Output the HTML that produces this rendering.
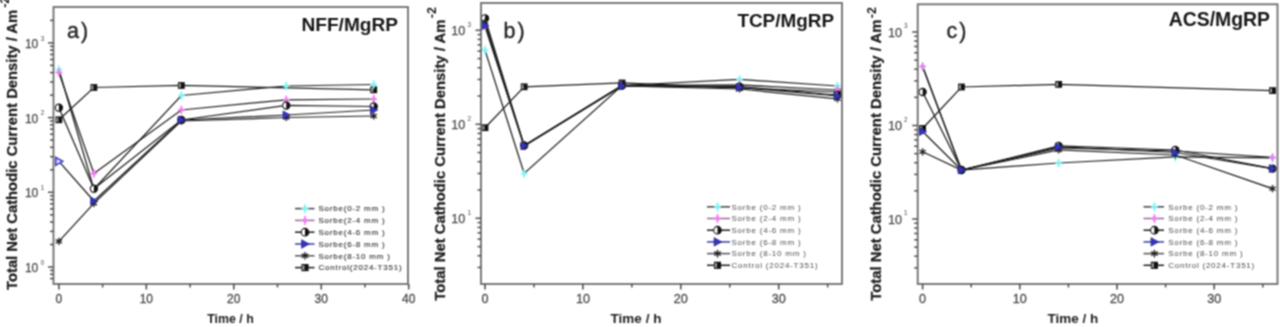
<!DOCTYPE html>
<html><head><meta charset="utf-8"><style>
html,body{margin:0;padding:0;background:#fff;width:1280px;height:327px;overflow:hidden}
svg{display:block}
text{font-family:"Liberation Sans", sans-serif}
</style></head><body>
<div id="w"><svg width="1280" height="327" viewBox="0 0 1280 327">
<defs><filter id="bl" x="0" y="0" width="1" height="1" filterUnits="objectBoundingBox" color-interpolation-filters="sRGB"><feConvolveMatrix order="3" kernelMatrix="1 2 1 2 4 2 1 2 1" divisor="16" edgeMode="duplicate"/></filter></defs>
<g filter="url(#bl)">
<rect width="1280" height="327" fill="#fff"/>
<polyline points="58.90,119.80 93.88,87.50 181.33,85.50 373.72,89.80" fill="none" stroke="#1e1e1e" stroke-width="1.25"/>
<polyline points="58.90,69.50 93.88,189.00 181.33,95.50 286.27,86.00 373.72,84.50" fill="none" stroke="#1e1e1e" stroke-width="1.25"/>
<polyline points="58.90,72.50 93.88,173.50 181.33,110.00 286.27,99.80 373.72,99.00" fill="none" stroke="#1e1e1e" stroke-width="1.25"/>
<polyline points="58.90,107.70 93.88,188.70 181.33,120.00 286.27,105.50 373.72,106.50" fill="none" stroke="#1e1e1e" stroke-width="1.25"/>
<polyline points="58.90,241.40 93.88,203.40 181.33,121.00 286.27,117.50 373.72,116.00" fill="none" stroke="#1e1e1e" stroke-width="1.25"/>
<polyline points="58.90,161.30 93.88,201.00 181.33,120.00 286.27,115.00 373.72,110.00" fill="none" stroke="#1e1e1e" stroke-width="1.25"/>
<rect x="55.5" y="116.39999999999999" width="6.8" height="6.8" fill="#111"/><rect x="56.3" y="117.6" width="2.0999999999999996" height="4.4" fill="#9a9a9a"/>
<rect x="90.47999999999999" y="84.1" width="6.8" height="6.8" fill="#111"/><rect x="91.27999999999999" y="85.3" width="2.0999999999999996" height="4.4" fill="#9a9a9a"/>
<rect x="177.92999999999998" y="82.1" width="6.8" height="6.8" fill="#111"/><rect x="178.73" y="83.3" width="2.0999999999999996" height="4.4" fill="#9a9a9a"/>
<rect x="370.32" y="86.39999999999999" width="6.8" height="6.8" fill="#111"/><rect x="371.12" y="87.6" width="2.0999999999999996" height="4.4" fill="#9a9a9a"/>
<polygon points="58.90,65.10 59.89,68.51 62.30,69.50 59.89,70.49 58.90,73.90 57.91,70.49 55.50,69.50 57.91,68.51" fill="#7ff5f5" stroke="#7ff5f5" stroke-width="0.8"/>
<polygon points="93.88,184.60 94.87,188.01 97.28,189.00 94.87,189.99 93.88,193.40 92.89,189.99 90.48,189.00 92.89,188.01" fill="#7ff5f5" stroke="#7ff5f5" stroke-width="0.8"/>
<polygon points="181.33,91.10 182.32,94.51 184.73,95.50 182.32,96.49 181.33,99.90 180.34,96.49 177.93,95.50 180.34,94.51" fill="#7ff5f5" stroke="#7ff5f5" stroke-width="0.8"/>
<polygon points="286.27,81.60 287.26,85.01 289.67,86.00 287.26,86.99 286.27,90.40 285.28,86.99 282.87,86.00 285.28,85.01" fill="#7ff5f5" stroke="#7ff5f5" stroke-width="0.8"/>
<polygon points="373.72,80.10 374.71,83.51 377.12,84.50 374.71,85.49 373.72,88.90 372.73,85.49 370.32,84.50 372.73,83.51" fill="#7ff5f5" stroke="#7ff5f5" stroke-width="0.8"/>
<polygon points="58.90,68.10 59.89,71.51 62.30,72.50 59.89,73.49 58.90,76.90 57.91,73.49 55.50,72.50 57.91,71.51" fill="#f07cf0" stroke="#f07cf0" stroke-width="0.8"/>
<polygon points="93.88,169.10 94.87,172.51 97.28,173.50 94.87,174.49 93.88,177.90 92.89,174.49 90.48,173.50 92.89,172.51" fill="#f07cf0" stroke="#f07cf0" stroke-width="0.8"/>
<polygon points="181.33,105.60 182.32,109.01 184.73,110.00 182.32,110.99 181.33,114.40 180.34,110.99 177.93,110.00 180.34,109.01" fill="#f07cf0" stroke="#f07cf0" stroke-width="0.8"/>
<polygon points="286.27,95.40 287.26,98.81 289.67,99.80 287.26,100.79 286.27,104.20 285.28,100.79 282.87,99.80 285.28,98.81" fill="#f07cf0" stroke="#f07cf0" stroke-width="0.8"/>
<polygon points="373.72,94.60 374.71,98.01 377.12,99.00 374.71,99.99 373.72,103.40 372.73,99.99 370.32,99.00 372.73,98.01" fill="#f07cf0" stroke="#f07cf0" stroke-width="0.8"/>
<circle cx="58.9" cy="107.7" r="3.6" fill="#fff" stroke="#111" stroke-width="1.1"/><path d="M58.9,104.10000000000001 A3.6,3.6 0 0 1 58.9,111.3 Z" fill="#111"/>
<circle cx="93.88" cy="188.7" r="3.6" fill="#fff" stroke="#111" stroke-width="1.1"/><path d="M93.88,185.1 A3.6,3.6 0 0 1 93.88,192.29999999999998 Z" fill="#111"/>
<circle cx="181.32999999999998" cy="120" r="3.6" fill="#fff" stroke="#111" stroke-width="1.1"/><path d="M181.32999999999998,116.4 A3.6,3.6 0 0 1 181.32999999999998,123.6 Z" fill="#111"/>
<circle cx="286.27" cy="105.5" r="3.6" fill="#fff" stroke="#111" stroke-width="1.1"/><path d="M286.27,101.9 A3.6,3.6 0 0 1 286.27,109.1 Z" fill="#111"/>
<circle cx="373.71999999999997" cy="106.5" r="3.6" fill="#fff" stroke="#111" stroke-width="1.1"/><path d="M373.71999999999997,102.9 A3.6,3.6 0 0 1 373.71999999999997,110.1 Z" fill="#111"/>
<path d="M58.90,237.80L58.90,245.00M62.02,239.60L55.78,243.20M62.02,243.20L55.78,239.60" stroke="#222" stroke-width="1.4" fill="none"/>
<path d="M93.88,199.80L93.88,207.00M97.00,201.60L90.76,205.20M97.00,205.20L90.76,201.60" stroke="#222" stroke-width="1.4" fill="none"/>
<path d="M181.33,117.40L181.33,124.60M184.45,119.20L178.21,122.80M184.45,122.80L178.21,119.20" stroke="#222" stroke-width="1.4" fill="none"/>
<path d="M286.27,113.90L286.27,121.10M289.39,115.70L283.15,119.30M289.39,119.30L283.15,115.70" stroke="#222" stroke-width="1.4" fill="none"/>
<path d="M373.72,112.40L373.72,119.60M376.84,114.20L370.60,117.80M376.84,117.80L370.60,114.20" stroke="#222" stroke-width="1.4" fill="none"/>
<polygon points="55.70,157.30 62.90,161.30 55.70,165.30" fill="#d8d8ff" stroke="#3434c4" stroke-width="1.4"/>
<polygon points="90.68,197.00 97.88,201.00 90.68,205.00" fill="#3434c4" stroke="#24248a" stroke-width="0.8"/>
<polygon points="178.13,116.00 185.33,120.00 178.13,124.00" fill="#3434c4" stroke="#24248a" stroke-width="0.8"/>
<polygon points="283.07,111.00 290.27,115.00 283.07,119.00" fill="#3434c4" stroke="#24248a" stroke-width="0.8"/>
<polygon points="370.52,106.00 377.72,110.00 370.52,114.00" fill="#3434c4" stroke="#24248a" stroke-width="0.8"/>
<rect x="53.5" y="7" width="354.5" height="277" fill="none" stroke="#6e6e6e" stroke-width="1.8"/>
<line x1="58.90" y1="284" x2="58.90" y2="289.5" stroke="#505050" stroke-width="1.6"/>
<text x="58.90" y="302.8" font-size="12" fill="#4a4a4a" stroke="#4a4a4a" stroke-width="0.3" text-anchor="middle">0</text>
<line x1="146.35" y1="284" x2="146.35" y2="289.5" stroke="#505050" stroke-width="1.6"/>
<text x="146.35" y="302.8" font-size="12" fill="#4a4a4a" stroke="#4a4a4a" stroke-width="0.3" text-anchor="middle">10</text>
<line x1="233.80" y1="284" x2="233.80" y2="289.5" stroke="#505050" stroke-width="1.6"/>
<text x="233.80" y="302.8" font-size="12" fill="#4a4a4a" stroke="#4a4a4a" stroke-width="0.3" text-anchor="middle">20</text>
<line x1="321.25" y1="284" x2="321.25" y2="289.5" stroke="#505050" stroke-width="1.6"/>
<text x="321.25" y="302.8" font-size="12" fill="#4a4a4a" stroke="#4a4a4a" stroke-width="0.3" text-anchor="middle">30</text>
<line x1="408.70" y1="284" x2="408.70" y2="289.5" stroke="#505050" stroke-width="1.6"/>
<text x="408.70" y="302.8" font-size="12" fill="#4a4a4a" stroke="#4a4a4a" stroke-width="0.3" text-anchor="middle">40</text>
<line x1="102.62" y1="284" x2="102.62" y2="287.5" stroke="#505050" stroke-width="1.5"/>
<line x1="190.07" y1="284" x2="190.07" y2="287.5" stroke="#505050" stroke-width="1.5"/>
<line x1="277.52" y1="284" x2="277.52" y2="287.5" stroke="#505050" stroke-width="1.5"/>
<line x1="364.97" y1="284" x2="364.97" y2="287.5" stroke="#505050" stroke-width="1.5"/>
<line x1="50.00" y1="278.57" x2="53.5" y2="278.57" stroke="#505050" stroke-width="1.5"/>
<line x1="50.00" y1="274.24" x2="53.5" y2="274.24" stroke="#505050" stroke-width="1.5"/>
<line x1="50.00" y1="270.42" x2="53.5" y2="270.42" stroke="#505050" stroke-width="1.5"/>
<line x1="48.00" y1="267.00" x2="53.5" y2="267.00" stroke="#505050" stroke-width="1.5"/>
<line x1="50.00" y1="244.51" x2="53.5" y2="244.51" stroke="#505050" stroke-width="1.5"/>
<line x1="50.00" y1="231.36" x2="53.5" y2="231.36" stroke="#505050" stroke-width="1.5"/>
<line x1="50.00" y1="222.03" x2="53.5" y2="222.03" stroke="#505050" stroke-width="1.5"/>
<line x1="50.00" y1="214.79" x2="53.5" y2="214.79" stroke="#505050" stroke-width="1.5"/>
<line x1="50.00" y1="208.87" x2="53.5" y2="208.87" stroke="#505050" stroke-width="1.5"/>
<line x1="50.00" y1="203.87" x2="53.5" y2="203.87" stroke="#505050" stroke-width="1.5"/>
<line x1="50.00" y1="199.54" x2="53.5" y2="199.54" stroke="#505050" stroke-width="1.5"/>
<line x1="50.00" y1="195.72" x2="53.5" y2="195.72" stroke="#505050" stroke-width="1.5"/>
<line x1="48.00" y1="192.30" x2="53.5" y2="192.30" stroke="#505050" stroke-width="1.5"/>
<line x1="50.00" y1="169.81" x2="53.5" y2="169.81" stroke="#505050" stroke-width="1.5"/>
<line x1="50.00" y1="156.66" x2="53.5" y2="156.66" stroke="#505050" stroke-width="1.5"/>
<line x1="50.00" y1="147.33" x2="53.5" y2="147.33" stroke="#505050" stroke-width="1.5"/>
<line x1="50.00" y1="140.09" x2="53.5" y2="140.09" stroke="#505050" stroke-width="1.5"/>
<line x1="50.00" y1="134.17" x2="53.5" y2="134.17" stroke="#505050" stroke-width="1.5"/>
<line x1="50.00" y1="129.17" x2="53.5" y2="129.17" stroke="#505050" stroke-width="1.5"/>
<line x1="50.00" y1="124.84" x2="53.5" y2="124.84" stroke="#505050" stroke-width="1.5"/>
<line x1="50.00" y1="121.02" x2="53.5" y2="121.02" stroke="#505050" stroke-width="1.5"/>
<line x1="48.00" y1="117.60" x2="53.5" y2="117.60" stroke="#505050" stroke-width="1.5"/>
<line x1="50.00" y1="95.11" x2="53.5" y2="95.11" stroke="#505050" stroke-width="1.5"/>
<line x1="50.00" y1="81.96" x2="53.5" y2="81.96" stroke="#505050" stroke-width="1.5"/>
<line x1="50.00" y1="72.63" x2="53.5" y2="72.63" stroke="#505050" stroke-width="1.5"/>
<line x1="50.00" y1="65.39" x2="53.5" y2="65.39" stroke="#505050" stroke-width="1.5"/>
<line x1="50.00" y1="59.47" x2="53.5" y2="59.47" stroke="#505050" stroke-width="1.5"/>
<line x1="50.00" y1="54.47" x2="53.5" y2="54.47" stroke="#505050" stroke-width="1.5"/>
<line x1="50.00" y1="50.14" x2="53.5" y2="50.14" stroke="#505050" stroke-width="1.5"/>
<line x1="50.00" y1="46.32" x2="53.5" y2="46.32" stroke="#505050" stroke-width="1.5"/>
<line x1="48.00" y1="42.90" x2="53.5" y2="42.90" stroke="#505050" stroke-width="1.5"/>
<line x1="50.00" y1="20.41" x2="53.5" y2="20.41" stroke="#505050" stroke-width="1.5"/>
<text x="38.3" y="272.00" font-size="12" fill="#4a4a4a" stroke="#4a4a4a" stroke-width="0.25" text-anchor="end">10</text>
<text x="40.7" y="264.60" font-size="6.3" fill="#4a4a4a">0</text>
<text x="38.3" y="197.30" font-size="12" fill="#4a4a4a" stroke="#4a4a4a" stroke-width="0.25" text-anchor="end">10</text>
<text x="40.7" y="189.90" font-size="6.3" fill="#4a4a4a">1</text>
<text x="38.3" y="122.60" font-size="12" fill="#4a4a4a" stroke="#4a4a4a" stroke-width="0.25" text-anchor="end">10</text>
<text x="40.7" y="115.20" font-size="6.3" fill="#4a4a4a">2</text>
<text x="38.3" y="47.90" font-size="12" fill="#4a4a4a" stroke="#4a4a4a" stroke-width="0.25" text-anchor="end">10</text>
<text x="40.7" y="40.50" font-size="6.3" fill="#4a4a4a">3</text>
<text transform="translate(16.6,290) rotate(-90) scale(1,0.95)" font-size="14.8" font-weight="bold" fill="#1c1c1c" stroke="#1c1c1c" stroke-width="0.25">Total Net Cathodic Current Density / Am</text>
<text transform="translate(9.0,7.8) rotate(-90)" font-size="12.5" font-weight="bold" fill="#1c1c1c">-2</text>
<text x="230.5" y="322.5" font-size="12.4" font-weight="bold" fill="#222" text-anchor="middle">Time / h</text>
<text x="67" y="37.6" font-size="21.5" letter-spacing="2" fill="#222" stroke="#222" stroke-width="0.35">a)</text>
<text x="398" y="31" font-size="19.1" font-weight="bold" fill="#161616" text-anchor="end">NFF/MgRP</text>
<line x1="295" y1="208.60" x2="314.5" y2="208.60" stroke="#444" stroke-width="1.5"/>
<polygon points="305.00,203.98 306.04,207.56 308.57,208.60 306.04,209.64 305.00,213.22 303.96,209.64 301.43,208.60 303.96,207.56" fill="#7ff5f5" stroke="#7ff5f5" stroke-width="0.8"/>
<text x="318.5" y="211.40" font-size="8" letter-spacing="0.78" fill="#333" stroke="#333" stroke-width="0.12">Sorbe(0-2 mm )</text>
<line x1="295" y1="220.40" x2="314.5" y2="220.40" stroke="#9a6a9a" stroke-width="1.5"/>
<polygon points="305.00,215.78 306.04,219.36 308.57,220.40 306.04,221.44 305.00,225.02 303.96,221.44 301.43,220.40 303.96,219.36" fill="#f07cf0" stroke="#f07cf0" stroke-width="0.8"/>
<text x="318.5" y="223.20" font-size="8" letter-spacing="0.78" fill="#333" stroke="#333" stroke-width="0.12">Sorbe(2-4 mm )</text>
<line x1="295" y1="232.20" x2="314.5" y2="232.20" stroke="#1e1e1e" stroke-width="1.5"/>
<circle cx="305" cy="232.2" r="3.7800000000000002" fill="#fff" stroke="#111" stroke-width="1.1"/><path d="M305,228.42 A3.7800000000000002,3.7800000000000002 0 0 1 305,235.98 Z" fill="#111"/>
<text x="318.5" y="235.00" font-size="8" letter-spacing="0.78" fill="#333" stroke="#333" stroke-width="0.12">Sorbe(4-6 mm )</text>
<line x1="295" y1="244.00" x2="314.5" y2="244.00" stroke="#3a3ab0" stroke-width="1.5"/>
<polygon points="301.64,239.80 309.20,244.00 301.64,248.20" fill="#3434c4" stroke="#24248a" stroke-width="0.8"/>
<text x="318.5" y="246.80" font-size="8" letter-spacing="0.78" fill="#333" stroke="#333" stroke-width="0.12">Sorbe(6-8 mm )</text>
<line x1="295" y1="255.80" x2="314.5" y2="255.80" stroke="#555" stroke-width="1.5"/>
<path d="M305.00,252.02L305.00,259.58M308.27,253.91L301.73,257.69M308.27,257.69L301.73,253.91" stroke="#222" stroke-width="1.4" fill="none"/>
<text x="318.5" y="258.60" font-size="8" letter-spacing="0.78" fill="#333" stroke="#333" stroke-width="0.12">Sorbe(8-10 mm )</text>
<line x1="295" y1="267.60" x2="314.5" y2="267.60" stroke="#1e1e1e" stroke-width="1.5"/>
<rect x="301.43" y="264.03000000000003" width="7.14" height="7.14" fill="#111"/><rect x="302.23" y="265.23" width="2.2699999999999996" height="4.74" fill="#9a9a9a"/>
<text x="318.5" y="270.40" font-size="8" letter-spacing="0.78" fill="#333" stroke="#333" stroke-width="0.12">Control(2024-T351)</text>
<polyline points="485.00,127.70 524.16,86.80 622.06,83.00 837.44,92.00" fill="none" stroke="#1e1e1e" stroke-width="1.25"/>
<polyline points="485.00,50.10 524.16,173.50 622.06,85.50 739.54,79.50 837.44,86.00" fill="none" stroke="#1e1e1e" stroke-width="1.25"/>
<polyline points="485.00,26.00 524.16,145.90 622.06,85.50 739.54,85.00 837.44,90.00" fill="none" stroke="#1e1e1e" stroke-width="1.25"/>
<polyline points="485.00,18.30 524.16,145.50 622.06,85.50 739.54,86.70 837.44,95.00" fill="none" stroke="#1e1e1e" stroke-width="1.25"/>
<polyline points="485.00,22.00 524.16,146.00 622.06,86.00 739.54,89.00 837.44,98.90" fill="none" stroke="#1e1e1e" stroke-width="1.25"/>
<polyline points="485.00,25.70 524.16,145.90 622.06,86.00 739.54,87.50 837.44,96.00" fill="none" stroke="#1e1e1e" stroke-width="1.25"/>
<rect x="481.6" y="124.3" width="6.8" height="6.8" fill="#111"/><rect x="482.40000000000003" y="125.5" width="2.0999999999999996" height="4.4" fill="#9a9a9a"/>
<rect x="520.76" y="83.39999999999999" width="6.8" height="6.8" fill="#111"/><rect x="521.56" y="84.6" width="2.0999999999999996" height="4.4" fill="#9a9a9a"/>
<rect x="618.66" y="79.6" width="6.8" height="6.8" fill="#111"/><rect x="619.4599999999999" y="80.8" width="2.0999999999999996" height="4.4" fill="#9a9a9a"/>
<rect x="834.04" y="88.6" width="6.8" height="6.8" fill="#111"/><rect x="834.8399999999999" y="89.8" width="2.0999999999999996" height="4.4" fill="#9a9a9a"/>
<polygon points="485.00,45.70 485.99,49.11 488.40,50.10 485.99,51.09 485.00,54.50 484.01,51.09 481.60,50.10 484.01,49.11" fill="#7ff5f5" stroke="#7ff5f5" stroke-width="0.8"/>
<polygon points="524.16,169.10 525.15,172.51 527.56,173.50 525.15,174.49 524.16,177.90 523.17,174.49 520.76,173.50 523.17,172.51" fill="#7ff5f5" stroke="#7ff5f5" stroke-width="0.8"/>
<polygon points="622.06,81.10 623.05,84.51 625.46,85.50 623.05,86.49 622.06,89.90 621.07,86.49 618.66,85.50 621.07,84.51" fill="#7ff5f5" stroke="#7ff5f5" stroke-width="0.8"/>
<polygon points="739.54,75.10 740.53,78.51 742.94,79.50 740.53,80.49 739.54,83.90 738.55,80.49 736.14,79.50 738.55,78.51" fill="#7ff5f5" stroke="#7ff5f5" stroke-width="0.8"/>
<polygon points="837.44,81.60 838.43,85.01 840.84,86.00 838.43,86.99 837.44,90.40 836.45,86.99 834.04,86.00 836.45,85.01" fill="#7ff5f5" stroke="#7ff5f5" stroke-width="0.8"/>
<polygon points="485.00,21.60 485.99,25.01 488.40,26.00 485.99,26.99 485.00,30.40 484.01,26.99 481.60,26.00 484.01,25.01" fill="#f07cf0" stroke="#f07cf0" stroke-width="0.8"/>
<polygon points="524.16,141.50 525.15,144.91 527.56,145.90 525.15,146.89 524.16,150.30 523.17,146.89 520.76,145.90 523.17,144.91" fill="#f07cf0" stroke="#f07cf0" stroke-width="0.8"/>
<polygon points="622.06,81.10 623.05,84.51 625.46,85.50 623.05,86.49 622.06,89.90 621.07,86.49 618.66,85.50 621.07,84.51" fill="#f07cf0" stroke="#f07cf0" stroke-width="0.8"/>
<polygon points="739.54,80.60 740.53,84.01 742.94,85.00 740.53,85.99 739.54,89.40 738.55,85.99 736.14,85.00 738.55,84.01" fill="#f07cf0" stroke="#f07cf0" stroke-width="0.8"/>
<polygon points="837.44,85.60 838.43,89.01 840.84,90.00 838.43,90.99 837.44,94.40 836.45,90.99 834.04,90.00 836.45,89.01" fill="#f07cf0" stroke="#f07cf0" stroke-width="0.8"/>
<circle cx="485.0" cy="18.3" r="3.6" fill="#fff" stroke="#111" stroke-width="1.1"/><path d="M485.0,14.700000000000001 A3.6,3.6 0 0 1 485.0,21.900000000000002 Z" fill="#111"/>
<circle cx="524.16" cy="145.5" r="3.6" fill="#fff" stroke="#111" stroke-width="1.1"/><path d="M524.16,141.9 A3.6,3.6 0 0 1 524.16,149.1 Z" fill="#111"/>
<circle cx="622.06" cy="85.5" r="3.6" fill="#fff" stroke="#111" stroke-width="1.1"/><path d="M622.06,81.9 A3.6,3.6 0 0 1 622.06,89.1 Z" fill="#111"/>
<circle cx="739.54" cy="86.7" r="3.6" fill="#fff" stroke="#111" stroke-width="1.1"/><path d="M739.54,83.10000000000001 A3.6,3.6 0 0 1 739.54,90.3 Z" fill="#111"/>
<circle cx="837.4399999999999" cy="95" r="3.6" fill="#fff" stroke="#111" stroke-width="1.1"/><path d="M837.4399999999999,91.4 A3.6,3.6 0 0 1 837.4399999999999,98.6 Z" fill="#111"/>
<path d="M485.00,18.40L485.00,25.60M488.12,20.20L481.88,23.80M488.12,23.80L481.88,20.20" stroke="#222" stroke-width="1.4" fill="none"/>
<path d="M524.16,142.40L524.16,149.60M527.28,144.20L521.04,147.80M527.28,147.80L521.04,144.20" stroke="#222" stroke-width="1.4" fill="none"/>
<path d="M622.06,82.40L622.06,89.60M625.18,84.20L618.94,87.80M625.18,87.80L618.94,84.20" stroke="#222" stroke-width="1.4" fill="none"/>
<path d="M739.54,85.40L739.54,92.60M742.66,87.20L736.42,90.80M742.66,90.80L736.42,87.20" stroke="#222" stroke-width="1.4" fill="none"/>
<path d="M837.44,95.30L837.44,102.50M840.56,97.10L834.32,100.70M840.56,100.70L834.32,97.10" stroke="#222" stroke-width="1.4" fill="none"/>
<polygon points="481.80,21.70 489.00,25.70 481.80,29.70" fill="#3434c4" stroke="#24248a" stroke-width="0.8"/>
<polygon points="520.96,141.90 528.16,145.90 520.96,149.90" fill="#3434c4" stroke="#24248a" stroke-width="0.8"/>
<polygon points="618.86,82.00 626.06,86.00 618.86,90.00" fill="#3434c4" stroke="#24248a" stroke-width="0.8"/>
<polygon points="736.34,83.50 743.54,87.50 736.34,91.50" fill="#3434c4" stroke="#24248a" stroke-width="0.8"/>
<polygon points="834.24,92.00 841.44,96.00 834.24,100.00" fill="#3434c4" stroke="#24248a" stroke-width="0.8"/>
<rect x="481" y="3" width="361" height="281" fill="none" stroke="#6e6e6e" stroke-width="1.8"/>
<line x1="485.00" y1="284" x2="485.00" y2="289.5" stroke="#505050" stroke-width="1.6"/>
<text x="485.00" y="302.8" font-size="12.6" fill="#4a4a4a" stroke="#4a4a4a" stroke-width="0.3" text-anchor="middle">0</text>
<line x1="582.90" y1="284" x2="582.90" y2="289.5" stroke="#505050" stroke-width="1.6"/>
<text x="582.90" y="302.8" font-size="12.6" fill="#4a4a4a" stroke="#4a4a4a" stroke-width="0.3" text-anchor="middle">10</text>
<line x1="680.80" y1="284" x2="680.80" y2="289.5" stroke="#505050" stroke-width="1.6"/>
<text x="680.80" y="302.8" font-size="12.6" fill="#4a4a4a" stroke="#4a4a4a" stroke-width="0.3" text-anchor="middle">20</text>
<line x1="778.70" y1="284" x2="778.70" y2="289.5" stroke="#505050" stroke-width="1.6"/>
<text x="778.70" y="302.8" font-size="12.6" fill="#4a4a4a" stroke="#4a4a4a" stroke-width="0.3" text-anchor="middle">30</text>
<line x1="533.95" y1="284" x2="533.95" y2="287.5" stroke="#505050" stroke-width="1.5"/>
<line x1="631.85" y1="284" x2="631.85" y2="287.5" stroke="#505050" stroke-width="1.5"/>
<line x1="729.75" y1="284" x2="729.75" y2="287.5" stroke="#505050" stroke-width="1.5"/>
<line x1="827.65" y1="284" x2="827.65" y2="287.5" stroke="#505050" stroke-width="1.5"/>
<line x1="477.50" y1="267.45" x2="481" y2="267.45" stroke="#505050" stroke-width="1.5"/>
<line x1="477.50" y1="255.71" x2="481" y2="255.71" stroke="#505050" stroke-width="1.5"/>
<line x1="477.50" y1="246.60" x2="481" y2="246.60" stroke="#505050" stroke-width="1.5"/>
<line x1="477.50" y1="239.15" x2="481" y2="239.15" stroke="#505050" stroke-width="1.5"/>
<line x1="477.50" y1="232.86" x2="481" y2="232.86" stroke="#505050" stroke-width="1.5"/>
<line x1="477.50" y1="227.41" x2="481" y2="227.41" stroke="#505050" stroke-width="1.5"/>
<line x1="477.50" y1="222.60" x2="481" y2="222.60" stroke="#505050" stroke-width="1.5"/>
<line x1="475.50" y1="218.30" x2="481" y2="218.30" stroke="#505050" stroke-width="1.5"/>
<line x1="477.50" y1="190.00" x2="481" y2="190.00" stroke="#505050" stroke-width="1.5"/>
<line x1="477.50" y1="173.45" x2="481" y2="173.45" stroke="#505050" stroke-width="1.5"/>
<line x1="477.50" y1="161.71" x2="481" y2="161.71" stroke="#505050" stroke-width="1.5"/>
<line x1="477.50" y1="152.60" x2="481" y2="152.60" stroke="#505050" stroke-width="1.5"/>
<line x1="477.50" y1="145.15" x2="481" y2="145.15" stroke="#505050" stroke-width="1.5"/>
<line x1="477.50" y1="138.86" x2="481" y2="138.86" stroke="#505050" stroke-width="1.5"/>
<line x1="477.50" y1="133.41" x2="481" y2="133.41" stroke="#505050" stroke-width="1.5"/>
<line x1="477.50" y1="128.60" x2="481" y2="128.60" stroke="#505050" stroke-width="1.5"/>
<line x1="475.50" y1="124.30" x2="481" y2="124.30" stroke="#505050" stroke-width="1.5"/>
<line x1="477.50" y1="96.00" x2="481" y2="96.00" stroke="#505050" stroke-width="1.5"/>
<line x1="477.50" y1="79.45" x2="481" y2="79.45" stroke="#505050" stroke-width="1.5"/>
<line x1="477.50" y1="67.71" x2="481" y2="67.71" stroke="#505050" stroke-width="1.5"/>
<line x1="477.50" y1="58.60" x2="481" y2="58.60" stroke="#505050" stroke-width="1.5"/>
<line x1="477.50" y1="51.15" x2="481" y2="51.15" stroke="#505050" stroke-width="1.5"/>
<line x1="477.50" y1="44.86" x2="481" y2="44.86" stroke="#505050" stroke-width="1.5"/>
<line x1="477.50" y1="39.41" x2="481" y2="39.41" stroke="#505050" stroke-width="1.5"/>
<line x1="477.50" y1="34.60" x2="481" y2="34.60" stroke="#505050" stroke-width="1.5"/>
<line x1="475.50" y1="30.30" x2="481" y2="30.30" stroke="#505050" stroke-width="1.5"/>
<text x="465.2" y="222.90" font-size="12.6" fill="#4a4a4a" stroke="#4a4a4a" stroke-width="0.25" text-anchor="end">10</text>
<text x="467.4" y="214.70" font-size="6.3" fill="#4a4a4a">1</text>
<text x="465.2" y="128.90" font-size="12.6" fill="#4a4a4a" stroke="#4a4a4a" stroke-width="0.25" text-anchor="end">10</text>
<text x="467.4" y="120.70" font-size="6.3" fill="#4a4a4a">2</text>
<text x="465.2" y="34.90" font-size="12.6" fill="#4a4a4a" stroke="#4a4a4a" stroke-width="0.25" text-anchor="end">10</text>
<text x="467.4" y="26.70" font-size="6.3" fill="#4a4a4a">3</text>
<text transform="translate(444.6,300.8) rotate(-90) scale(1,0.93)" font-size="14.85" font-weight="bold" fill="#1c1c1c" stroke="#1c1c1c" stroke-width="0.25">Total Net Cathodic Current Density / Am</text>
<text transform="translate(436.0,18.2) rotate(-90)" font-size="12.5" font-weight="bold" fill="#1c1c1c">-2</text>
<text x="636" y="322.6" font-size="13.5" font-weight="bold" fill="#222" text-anchor="middle">Time / h</text>
<text x="503.5" y="37.8" font-size="21.5" letter-spacing="2" fill="#222" stroke="#222" stroke-width="0.35">b)</text>
<text x="834" y="26.5" font-size="18.9" font-weight="bold" fill="#161616" text-anchor="end">TCP/MgRP</text>
<line x1="707" y1="206.80" x2="730" y2="206.80" stroke="#444" stroke-width="1.5"/>
<polygon points="717.50,202.18 718.54,205.76 721.07,206.80 718.54,207.84 717.50,211.42 716.46,207.84 713.93,206.80 716.46,205.76" fill="#7ff5f5" stroke="#7ff5f5" stroke-width="0.8"/>
<text x="731.5" y="209.60" font-size="8" letter-spacing="0.78" fill="#505050">Sorbe (0-2 mm )</text>
<line x1="707" y1="218.50" x2="730" y2="218.50" stroke="#9a6a9a" stroke-width="1.5"/>
<polygon points="717.50,213.88 718.54,217.46 721.07,218.50 718.54,219.54 717.50,223.12 716.46,219.54 713.93,218.50 716.46,217.46" fill="#f07cf0" stroke="#f07cf0" stroke-width="0.8"/>
<text x="731.5" y="221.30" font-size="8" letter-spacing="0.78" fill="#505050">Sorbe (2-4 mm )</text>
<line x1="707" y1="230.20" x2="730" y2="230.20" stroke="#1e1e1e" stroke-width="1.5"/>
<circle cx="717.5" cy="230.20000000000002" r="3.7800000000000002" fill="#fff" stroke="#111" stroke-width="1.1"/><path d="M717.5,226.42000000000002 A3.7800000000000002,3.7800000000000002 0 0 1 717.5,233.98000000000002 Z" fill="#111"/>
<text x="731.5" y="233.00" font-size="8" letter-spacing="0.78" fill="#505050">Sorbe (4-6 mm )</text>
<line x1="707" y1="241.90" x2="730" y2="241.90" stroke="#3a3ab0" stroke-width="1.5"/>
<polygon points="714.14,237.70 721.70,241.90 714.14,246.10" fill="#3434c4" stroke="#24248a" stroke-width="0.8"/>
<text x="731.5" y="244.70" font-size="8" letter-spacing="0.78" fill="#505050">Sorbe (6-8 mm )</text>
<line x1="707" y1="253.60" x2="730" y2="253.60" stroke="#555" stroke-width="1.5"/>
<path d="M717.50,249.82L717.50,257.38M720.77,251.71L714.23,255.49M720.77,255.49L714.23,251.71" stroke="#222" stroke-width="1.4" fill="none"/>
<text x="731.5" y="256.40" font-size="8" letter-spacing="0.78" fill="#505050">Sorbe (8-10 mm )</text>
<line x1="707" y1="265.30" x2="730" y2="265.30" stroke="#1e1e1e" stroke-width="1.5"/>
<rect x="713.93" y="261.73" width="7.14" height="7.14" fill="#111"/><rect x="714.7299999999999" y="262.93" width="2.2699999999999996" height="4.74" fill="#9a9a9a"/>
<text x="731.5" y="268.10" font-size="8" letter-spacing="0.78" fill="#505050">Control (2024-T351)</text>
<polyline points="922.60,128.50 961.48,87.00 1058.68,84.40 1272.52,90.60" fill="none" stroke="#1e1e1e" stroke-width="1.25"/>
<polyline points="922.60,66.50 961.48,170.00 1058.68,163.00 1175.32,157.00 1272.52,158.00" fill="none" stroke="#1e1e1e" stroke-width="1.25"/>
<polyline points="922.60,66.50 961.48,170.00 1058.68,148.00 1175.32,151.00 1272.52,157.40" fill="none" stroke="#1e1e1e" stroke-width="1.25"/>
<polyline points="922.60,92.00 961.48,170.00 1058.68,146.00 1175.32,150.00 1272.52,168.60" fill="none" stroke="#1e1e1e" stroke-width="1.25"/>
<polyline points="922.60,151.80 961.48,170.00 1058.68,150.00 1175.32,155.00 1272.52,188.70" fill="none" stroke="#1e1e1e" stroke-width="1.25"/>
<polyline points="922.60,131.50 961.48,170.00 1058.68,147.00 1175.32,152.50 1272.52,168.60" fill="none" stroke="#1e1e1e" stroke-width="1.25"/>
<rect x="919.2" y="125.1" width="6.8" height="6.8" fill="#111"/><rect x="920.0" y="126.3" width="2.0999999999999996" height="4.4" fill="#9a9a9a"/>
<rect x="958.08" y="83.6" width="6.8" height="6.8" fill="#111"/><rect x="958.88" y="84.8" width="2.0999999999999996" height="4.4" fill="#9a9a9a"/>
<rect x="1055.28" y="81.0" width="6.8" height="6.8" fill="#111"/><rect x="1056.08" y="82.2" width="2.0999999999999996" height="4.4" fill="#9a9a9a"/>
<rect x="1269.12" y="87.19999999999999" width="6.8" height="6.8" fill="#111"/><rect x="1269.9199999999998" y="88.39999999999999" width="2.0999999999999996" height="4.4" fill="#9a9a9a"/>
<polygon points="922.60,62.10 923.59,65.51 926.00,66.50 923.59,67.49 922.60,70.90 921.61,67.49 919.20,66.50 921.61,65.51" fill="#7ff5f5" stroke="#7ff5f5" stroke-width="0.8"/>
<polygon points="961.48,165.60 962.47,169.01 964.88,170.00 962.47,170.99 961.48,174.40 960.49,170.99 958.08,170.00 960.49,169.01" fill="#7ff5f5" stroke="#7ff5f5" stroke-width="0.8"/>
<polygon points="1058.68,158.60 1059.67,162.01 1062.08,163.00 1059.67,163.99 1058.68,167.40 1057.69,163.99 1055.28,163.00 1057.69,162.01" fill="#7ff5f5" stroke="#7ff5f5" stroke-width="0.8"/>
<polygon points="1175.32,152.60 1176.31,156.01 1178.72,157.00 1176.31,157.99 1175.32,161.40 1174.33,157.99 1171.92,157.00 1174.33,156.01" fill="#7ff5f5" stroke="#7ff5f5" stroke-width="0.8"/>
<polygon points="1272.52,153.60 1273.51,157.01 1275.92,158.00 1273.51,158.99 1272.52,162.40 1271.53,158.99 1269.12,158.00 1271.53,157.01" fill="#7ff5f5" stroke="#7ff5f5" stroke-width="0.8"/>
<polygon points="922.60,62.10 923.59,65.51 926.00,66.50 923.59,67.49 922.60,70.90 921.61,67.49 919.20,66.50 921.61,65.51" fill="#f07cf0" stroke="#f07cf0" stroke-width="0.8"/>
<polygon points="961.48,165.60 962.47,169.01 964.88,170.00 962.47,170.99 961.48,174.40 960.49,170.99 958.08,170.00 960.49,169.01" fill="#f07cf0" stroke="#f07cf0" stroke-width="0.8"/>
<polygon points="1058.68,143.60 1059.67,147.01 1062.08,148.00 1059.67,148.99 1058.68,152.40 1057.69,148.99 1055.28,148.00 1057.69,147.01" fill="#f07cf0" stroke="#f07cf0" stroke-width="0.8"/>
<polygon points="1175.32,146.60 1176.31,150.01 1178.72,151.00 1176.31,151.99 1175.32,155.40 1174.33,151.99 1171.92,151.00 1174.33,150.01" fill="#f07cf0" stroke="#f07cf0" stroke-width="0.8"/>
<polygon points="1272.52,153.00 1273.51,156.41 1275.92,157.40 1273.51,158.39 1272.52,161.80 1271.53,158.39 1269.12,157.40 1271.53,156.41" fill="#f07cf0" stroke="#f07cf0" stroke-width="0.8"/>
<circle cx="922.6" cy="92" r="3.6" fill="#fff" stroke="#111" stroke-width="1.1"/><path d="M922.6,88.4 A3.6,3.6 0 0 1 922.6,95.6 Z" fill="#111"/>
<circle cx="961.48" cy="170" r="3.6" fill="#fff" stroke="#111" stroke-width="1.1"/><path d="M961.48,166.4 A3.6,3.6 0 0 1 961.48,173.6 Z" fill="#111"/>
<circle cx="1058.68" cy="146" r="3.6" fill="#fff" stroke="#111" stroke-width="1.1"/><path d="M1058.68,142.4 A3.6,3.6 0 0 1 1058.68,149.6 Z" fill="#111"/>
<circle cx="1175.3200000000002" cy="150" r="3.6" fill="#fff" stroke="#111" stroke-width="1.1"/><path d="M1175.3200000000002,146.4 A3.6,3.6 0 0 1 1175.3200000000002,153.6 Z" fill="#111"/>
<circle cx="1272.52" cy="168.6" r="3.6" fill="#fff" stroke="#111" stroke-width="1.1"/><path d="M1272.52,165.0 A3.6,3.6 0 0 1 1272.52,172.2 Z" fill="#111"/>
<path d="M922.60,148.20L922.60,155.40M925.72,150.00L919.48,153.60M925.72,153.60L919.48,150.00" stroke="#222" stroke-width="1.4" fill="none"/>
<path d="M961.48,166.40L961.48,173.60M964.60,168.20L958.36,171.80M964.60,171.80L958.36,168.20" stroke="#222" stroke-width="1.4" fill="none"/>
<path d="M1058.68,146.40L1058.68,153.60M1061.80,148.20L1055.56,151.80M1061.80,151.80L1055.56,148.20" stroke="#222" stroke-width="1.4" fill="none"/>
<path d="M1175.32,151.40L1175.32,158.60M1178.44,153.20L1172.20,156.80M1178.44,156.80L1172.20,153.20" stroke="#222" stroke-width="1.4" fill="none"/>
<path d="M1272.52,185.10L1272.52,192.30M1275.64,186.90L1269.40,190.50M1275.64,190.50L1269.40,186.90" stroke="#222" stroke-width="1.4" fill="none"/>
<polygon points="919.40,127.50 926.60,131.50 919.40,135.50" fill="#3434c4" stroke="#24248a" stroke-width="0.8"/>
<polygon points="958.28,166.00 965.48,170.00 958.28,174.00" fill="#3434c4" stroke="#24248a" stroke-width="0.8"/>
<polygon points="1055.48,143.00 1062.68,147.00 1055.48,151.00" fill="#3434c4" stroke="#24248a" stroke-width="0.8"/>
<polygon points="1172.12,148.50 1179.32,152.50 1172.12,156.50" fill="#3434c4" stroke="#24248a" stroke-width="0.8"/>
<polygon points="1269.32,164.60 1276.52,168.60 1269.32,172.60" fill="#3434c4" stroke="#24248a" stroke-width="0.8"/>
<rect x="917.7" y="4.3" width="359.79999999999995" height="279.7" fill="none" stroke="#6e6e6e" stroke-width="1.8"/>
<line x1="922.60" y1="284" x2="922.60" y2="289.5" stroke="#505050" stroke-width="1.6"/>
<text x="922.60" y="302.8" font-size="12.6" fill="#4a4a4a" stroke="#4a4a4a" stroke-width="0.3" text-anchor="middle">0</text>
<line x1="1019.80" y1="284" x2="1019.80" y2="289.5" stroke="#505050" stroke-width="1.6"/>
<text x="1019.80" y="302.8" font-size="12.6" fill="#4a4a4a" stroke="#4a4a4a" stroke-width="0.3" text-anchor="middle">10</text>
<line x1="1117.00" y1="284" x2="1117.00" y2="289.5" stroke="#505050" stroke-width="1.6"/>
<text x="1117.00" y="302.8" font-size="12.6" fill="#4a4a4a" stroke="#4a4a4a" stroke-width="0.3" text-anchor="middle">20</text>
<line x1="1214.20" y1="284" x2="1214.20" y2="289.5" stroke="#505050" stroke-width="1.6"/>
<text x="1214.20" y="302.8" font-size="12.6" fill="#4a4a4a" stroke="#4a4a4a" stroke-width="0.3" text-anchor="middle">30</text>
<line x1="971.20" y1="284" x2="971.20" y2="287.5" stroke="#505050" stroke-width="1.5"/>
<line x1="1068.40" y1="284" x2="1068.40" y2="287.5" stroke="#505050" stroke-width="1.5"/>
<line x1="1165.60" y1="284" x2="1165.60" y2="287.5" stroke="#505050" stroke-width="1.5"/>
<line x1="1262.80" y1="284" x2="1262.80" y2="287.5" stroke="#505050" stroke-width="1.5"/>
<line x1="914.20" y1="267.89" x2="917.7" y2="267.89" stroke="#505050" stroke-width="1.5"/>
<line x1="914.20" y1="256.21" x2="917.7" y2="256.21" stroke="#505050" stroke-width="1.5"/>
<line x1="914.20" y1="247.15" x2="917.7" y2="247.15" stroke="#505050" stroke-width="1.5"/>
<line x1="914.20" y1="239.74" x2="917.7" y2="239.74" stroke="#505050" stroke-width="1.5"/>
<line x1="914.20" y1="233.48" x2="917.7" y2="233.48" stroke="#505050" stroke-width="1.5"/>
<line x1="914.20" y1="228.06" x2="917.7" y2="228.06" stroke="#505050" stroke-width="1.5"/>
<line x1="914.20" y1="223.28" x2="917.7" y2="223.28" stroke="#505050" stroke-width="1.5"/>
<line x1="912.20" y1="219.00" x2="917.7" y2="219.00" stroke="#505050" stroke-width="1.5"/>
<line x1="914.20" y1="190.85" x2="917.7" y2="190.85" stroke="#505050" stroke-width="1.5"/>
<line x1="914.20" y1="174.39" x2="917.7" y2="174.39" stroke="#505050" stroke-width="1.5"/>
<line x1="914.20" y1="162.71" x2="917.7" y2="162.71" stroke="#505050" stroke-width="1.5"/>
<line x1="914.20" y1="153.65" x2="917.7" y2="153.65" stroke="#505050" stroke-width="1.5"/>
<line x1="914.20" y1="146.24" x2="917.7" y2="146.24" stroke="#505050" stroke-width="1.5"/>
<line x1="914.20" y1="139.98" x2="917.7" y2="139.98" stroke="#505050" stroke-width="1.5"/>
<line x1="914.20" y1="134.56" x2="917.7" y2="134.56" stroke="#505050" stroke-width="1.5"/>
<line x1="914.20" y1="129.78" x2="917.7" y2="129.78" stroke="#505050" stroke-width="1.5"/>
<line x1="912.20" y1="125.50" x2="917.7" y2="125.50" stroke="#505050" stroke-width="1.5"/>
<line x1="914.20" y1="97.35" x2="917.7" y2="97.35" stroke="#505050" stroke-width="1.5"/>
<line x1="914.20" y1="80.89" x2="917.7" y2="80.89" stroke="#505050" stroke-width="1.5"/>
<line x1="914.20" y1="69.21" x2="917.7" y2="69.21" stroke="#505050" stroke-width="1.5"/>
<line x1="914.20" y1="60.15" x2="917.7" y2="60.15" stroke="#505050" stroke-width="1.5"/>
<line x1="914.20" y1="52.74" x2="917.7" y2="52.74" stroke="#505050" stroke-width="1.5"/>
<line x1="914.20" y1="46.48" x2="917.7" y2="46.48" stroke="#505050" stroke-width="1.5"/>
<line x1="914.20" y1="41.06" x2="917.7" y2="41.06" stroke="#505050" stroke-width="1.5"/>
<line x1="914.20" y1="36.28" x2="917.7" y2="36.28" stroke="#505050" stroke-width="1.5"/>
<line x1="912.20" y1="32.00" x2="917.7" y2="32.00" stroke="#505050" stroke-width="1.5"/>
<text x="901.9000000000001" y="223.60" font-size="12.6" fill="#4a4a4a" stroke="#4a4a4a" stroke-width="0.25" text-anchor="end">10</text>
<text x="904.1" y="215.40" font-size="6.3" fill="#4a4a4a">1</text>
<text x="901.9000000000001" y="130.10" font-size="12.6" fill="#4a4a4a" stroke="#4a4a4a" stroke-width="0.25" text-anchor="end">10</text>
<text x="904.1" y="121.90" font-size="6.3" fill="#4a4a4a">2</text>
<text x="901.9000000000001" y="36.60" font-size="12.6" fill="#4a4a4a" stroke="#4a4a4a" stroke-width="0.25" text-anchor="end">10</text>
<text x="904.1" y="28.40" font-size="6.3" fill="#4a4a4a">3</text>
<text transform="translate(880.8,300.8) rotate(-90) scale(1,0.93)" font-size="14.85" font-weight="bold" fill="#1c1c1c" stroke="#1c1c1c" stroke-width="0.25">Total Net Cathodic Current Density / Am</text>
<text transform="translate(875.6,18.2) rotate(-90)" font-size="12.5" font-weight="bold" fill="#1c1c1c">-2</text>
<text x="1072.8" y="322.6" font-size="13.5" font-weight="bold" fill="#222" text-anchor="middle">Time / h</text>
<text x="946.5" y="38" font-size="21.5" letter-spacing="2" fill="#222" stroke="#222" stroke-width="0.35">c)</text>
<text x="1270" y="26" font-size="19.4" font-weight="bold" fill="#161616" text-anchor="end">ACS/MgRP</text>
<line x1="1143.5" y1="206.80" x2="1164" y2="206.80" stroke="#444" stroke-width="1.5"/>
<polygon points="1154.40,202.18 1155.44,205.76 1157.97,206.80 1155.44,207.84 1154.40,211.42 1153.36,207.84 1150.83,206.80 1153.36,205.76" fill="#7ff5f5" stroke="#7ff5f5" stroke-width="0.8"/>
<text x="1168.2" y="209.60" font-size="8" letter-spacing="0.78" fill="#4a4a4a">Sorbe (0-2 mm )</text>
<line x1="1143.5" y1="218.50" x2="1164" y2="218.50" stroke="#9a6a9a" stroke-width="1.5"/>
<polygon points="1154.40,213.88 1155.44,217.46 1157.97,218.50 1155.44,219.54 1154.40,223.12 1153.36,219.54 1150.83,218.50 1153.36,217.46" fill="#f07cf0" stroke="#f07cf0" stroke-width="0.8"/>
<text x="1168.2" y="221.30" font-size="8" letter-spacing="0.78" fill="#4a4a4a">Sorbe (2-4 mm )</text>
<line x1="1143.5" y1="230.20" x2="1164" y2="230.20" stroke="#1e1e1e" stroke-width="1.5"/>
<circle cx="1154.4" cy="230.20000000000002" r="3.7800000000000002" fill="#fff" stroke="#111" stroke-width="1.1"/><path d="M1154.4,226.42000000000002 A3.7800000000000002,3.7800000000000002 0 0 1 1154.4,233.98000000000002 Z" fill="#111"/>
<text x="1168.2" y="233.00" font-size="8" letter-spacing="0.78" fill="#4a4a4a">Sorbe (4-6 mm )</text>
<line x1="1143.5" y1="241.90" x2="1164" y2="241.90" stroke="#3a3ab0" stroke-width="1.5"/>
<polygon points="1151.04,237.70 1158.60,241.90 1151.04,246.10" fill="#3434c4" stroke="#24248a" stroke-width="0.8"/>
<text x="1168.2" y="244.70" font-size="8" letter-spacing="0.78" fill="#4a4a4a">Sorbe (6-8 mm )</text>
<line x1="1143.5" y1="253.60" x2="1164" y2="253.60" stroke="#555" stroke-width="1.5"/>
<path d="M1154.40,249.82L1154.40,257.38M1157.67,251.71L1151.13,255.49M1157.67,255.49L1151.13,251.71" stroke="#222" stroke-width="1.4" fill="none"/>
<text x="1168.2" y="256.40" font-size="8" letter-spacing="0.78" fill="#4a4a4a">Sorbe (8-10 mm )</text>
<line x1="1143.5" y1="265.30" x2="1164" y2="265.30" stroke="#1e1e1e" stroke-width="1.5"/>
<rect x="1150.8300000000002" y="261.73" width="7.14" height="7.14" fill="#111"/><rect x="1151.63" y="262.93" width="2.2699999999999996" height="4.74" fill="#9a9a9a"/>
<text x="1168.2" y="268.10" font-size="8" letter-spacing="0.78" fill="#4a4a4a">Control (2024-T351)</text>
</g>
</svg></div>
</body></html>
